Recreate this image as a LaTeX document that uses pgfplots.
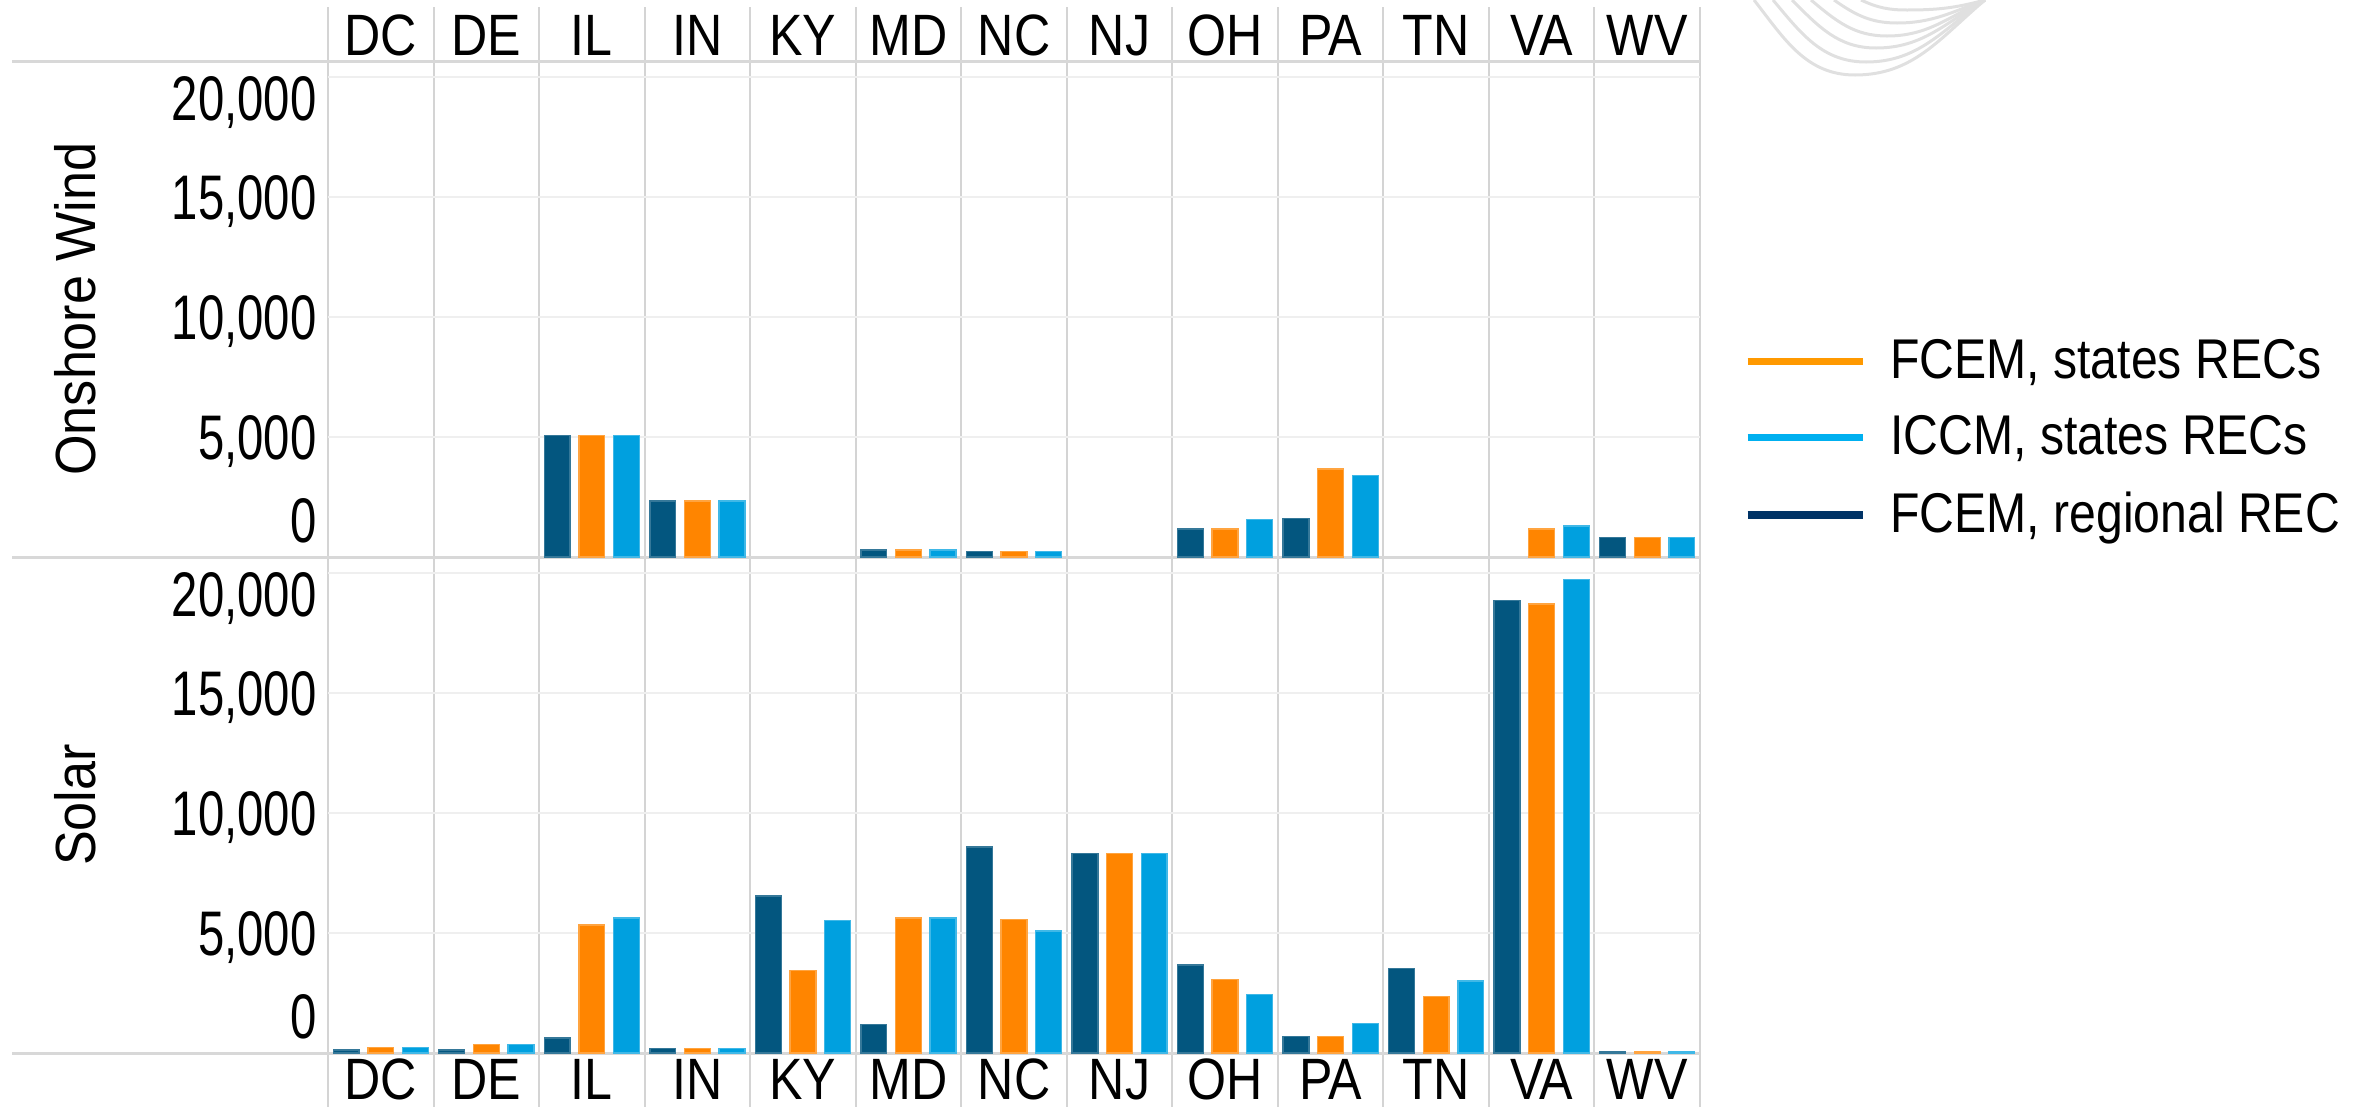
\documentclass[border=0pt]{standalone}
\usepackage{pgfplots}
\pgfplotsset{compat=1.18}
\usepackage{fontspec}
\setmainfont{Liberation Sans}[FakeStretch=0.86]
\newfontfamily\tickfam{Liberation Sans}[FakeStretch=0.75]
\newfontfamily\ylabfam{Liberation Sans}[FakeStretch=0.92]

\definecolor{cNavy}{HTML}{03567F}
\definecolor{cOrange}{HTML}{FF8500}
\definecolor{cBlue}{HTML}{00A0DF}
\definecolor{lNavy}{HTML}{003366}
\definecolor{lOrange}{HTML}{FF9900}
\definecolor{lBlue}{HTML}{00B0F0}
\definecolor{vgridc}{HTML}{D4D4D4}
\definecolor{framec}{HTML}{D8D8D8}
\definecolor{gridc}{HTML}{EFEFEF}
\definecolor{wmc}{HTML}{E0E0E0}

\newcommand\hdr{\fontsize{17.5pt}{21pt}\selectfont}
\newcommand\tck{\tickfam\fontsize{18.9pt}{22pt}\selectfont}
\newcommand\ylb{\ylabfam\fontsize{17pt}{20pt}\selectfont}
\newcommand\lgd{\fontsize{16.8pt}{20pt}\selectfont}

\pgfplotsset{
  panel/.style={
    scale only axis, width=411.6pt, height=148.8pt,
    xmin=-0.5, xmax=12.5, ymin=0, ymax=20650,
    scaled y ticks=false,
    axis line style={draw=none},
    tick style={draw=none},
    xtick={0,...,12},
    xticklabels={DC,DE,IL,IN,KY,MD,NC,NJ,OH,PA,TN,VA,WV},
    ytick={1540,5000,10000,15000,19110},
    yticklabels={0,{5,000},{10,000},{15,000},{20,000}},
    yticklabel style={anchor=base east, inner sep=0pt, xshift=-3.3pt, yshift=-6.77pt, font=\tck},
    xticklabel style={font=\hdr, inner sep=0pt},
    extra y ticks={5000,10000,15000,20000},
    extra y tick labels={},
    extra y tick style={grid=major, major grid style={draw=gridc, line width=0.6pt}},
    ybar, bar width=0.245,
    every axis y label/.style={at={(rel axis cs:0,0.5)}, xshift=-75.9pt, rotate=90, anchor=center, font=\ylb, inner sep=0pt},
    clip=false,
  },
  sNavy/.style={fill=cNavy, draw=cNavy!80!white, line width=0.4pt, bar shift=-0.328},
  sOrange/.style={fill=cOrange, draw=cOrange!75!white, line width=0.4pt, bar shift=0},
  sBlue/.style={fill=cBlue, draw=cBlue!75!white, line width=0.4pt, bar shift=0.328},
}

\begin{document}
\begin{tikzpicture}
\path[use as bounding box] (0pt,0pt) rectangle (711.3pt,-332.1pt);

% faint watermark curves (decoration)
\begin{scope}[draw=wmc, line width=0.9pt]
\draw (526.2pt,0pt) to[out=-52,in=180] (556.5pt,-22.5pt) to[out=0,in=-140] (595.5pt,0pt);
\draw (531.9pt,0pt) to[out=-50,in=180] (559.8pt,-18.6pt) to[out=0,in=-145] (595.5pt,0pt);
\draw (537.6pt,0pt) to[out=-45,in=180] (562.8pt,-14.4pt) to[out=0,in=-150] (595.5pt,0pt);
\draw (543.3pt,0pt) to[out=-40,in=180] (566.1pt,-10.8pt) to[out=0,in=-155] (595.5pt,0pt);
\draw (550.2pt,0pt) to[out=-35,in=180] (569.1pt,-6.9pt) to[out=0,in=-160] (595.5pt,0pt);
\draw (558.3pt,0pt) to[out=-25,in=180] (572.1pt,-3.0pt) to[out=0,in=-165] (595.5pt,0pt);
\end{scope}

% table frame lines (decoration)
\foreach \k in {0,...,13} {
  \draw[vgridc, line width=0.6pt] ({98.4pt+\k*31.6615pt},-2.1pt) -- ({98.4pt+\k*31.6615pt},-332.1pt);
}
\draw[framec, line width=0.9pt] (3.6pt,-18.3pt) -- (510pt,-18.3pt);
\draw[framec, line width=0.9pt] (3.6pt,-167.1pt) -- (510pt,-167.1pt);
\draw[framec, line width=0.9pt] (3.6pt,-315.9pt) -- (510pt,-315.9pt);

% Onshore Wind
\begin{axis}[panel, at={(98.4pt,-18.3pt)}, anchor=north west,
  xticklabel pos=upper, xticklabel style={anchor=base, yshift=-2.5pt},
  ylabel={Onshore Wind},
  legend cell align=left,
  legend style={draw=none, fill=none, inner sep=0pt, outer sep=0pt, font=\lgd,
    at={(rel axis cs:1,1)}, anchor=north west, xshift=13.2pt, yshift=-83.45pt,
    row sep=9.7pt, nodes={inner sep=0pt},
    /tikz/every odd column/.append style={column sep=7.2pt}},
]
\addlegendimage{legend image code/.code={\draw[lOrange, line width=2.2pt] (0pt,0pt) -- (34.5pt,0pt);}}
\addlegendentry{FCEM, states RECs}
\addlegendimage{legend image code/.code={\draw[lBlue, line width=2.2pt] (0pt,0pt) -- (34.5pt,0pt);}}
\addlegendentry{ICCM, states RECs}
\addlegendimage{legend image code/.code={\draw[lNavy, line width=2.2pt] (0pt,0pt) -- (34.5pt,0pt);}}
\addlegendentry{FCEM, regional REC}

\addplot[sNavy, forget plot] coordinates {(2,5050) (3,2330) (5,290) (6,240) (8,1165) (9,1615) (12,800)};
\addplot[sOrange, forget plot] coordinates {(2,5050) (3,2330) (5,290) (6,240) (8,1165) (9,3660) (11,1165) (12,800)};
\addplot[sBlue, forget plot] coordinates {(2,5050) (3,2330) (5,290) (6,240) (8,1555) (9,3380) (11,1290) (12,800)};
\end{axis}

% Solar
\begin{axis}[panel, at={(98.4pt,-167.1pt)}, anchor=north west,
  xticklabel style={anchor=base, yshift=-9.6pt},
  ylabel={Solar},
]
\addplot[sNavy] coordinates {(0,120) (1,120) (2,625) (3,180) (4,6530) (5,1195) (6,8570) (7,8295) (8,3670) (9,680) (10,3520) (11,18830) (12,75)};
\addplot[sOrange] coordinates {(0,230) (1,350) (2,5330) (3,180) (4,3445) (5,5620) (6,5560) (7,8295) (8,3066) (9,680) (10,2341) (11,18690) (12,75)};
\addplot[sBlue] coordinates {(0,230) (1,350) (2,5615) (3,180) (4,5515) (5,5620) (6,5076) (7,8295) (8,2447) (9,1240) (10,3005) (11,19700) (12,75)};
\end{axis}
\end{tikzpicture}
\end{document}
